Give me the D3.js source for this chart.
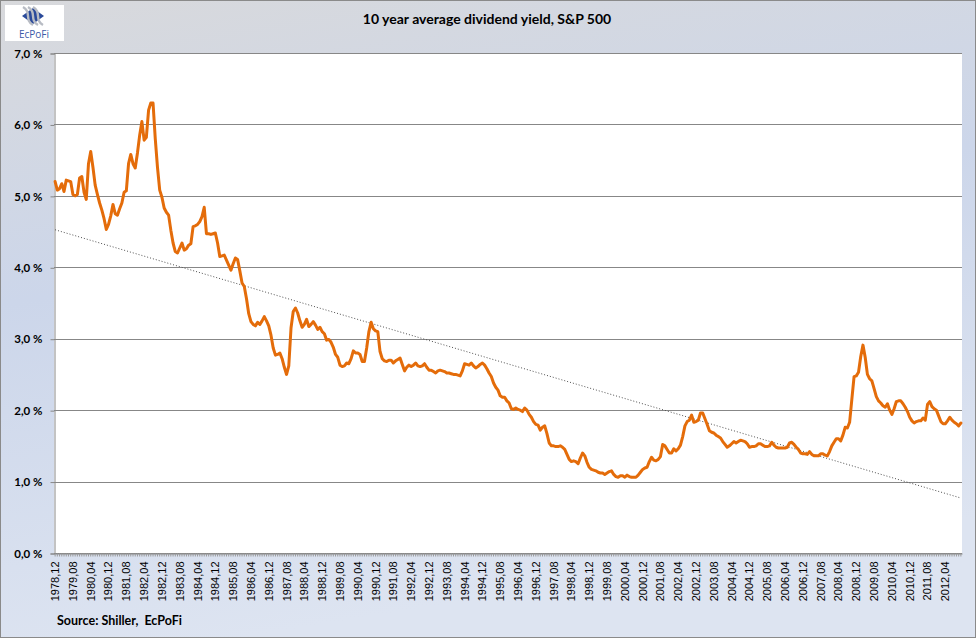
<!DOCTYPE html>
<html>
<head>
<meta charset="utf-8">
<script src="https://cdn.jsdelivr.net/npm/d3@7"></script>
<style>
  html, body { margin: 0; padding: 0; background: #fff; }
  svg { display: block; }
  text { white-space: pre; }
</style>
</head>
<body>
<svg id="chart" width="977" height="639"></svg>
<script>
// ---------- data ----------
const startYear = 1978;
const startMonth = 12;
const monthCount = 408; // Dec 1978 .. Nov 2012

// monthly S&P 500 dividend yield (%)
const yieldValues = [
  5.20,5.08,5.10,5.17,5.06,5.22,5.21,5.20,5.02,5.00,
  5.02,5.25,5.27,5.05,4.95,5.45,5.62,5.40,5.15,5.02,
  4.90,4.80,4.68,4.53,4.60,4.72,4.88,4.75,4.73,4.82,
  4.90,5.05,5.07,5.45,5.58,5.45,5.39,5.60,5.85,6.04,
  5.78,5.82,6.20,6.30,6.30,5.80,5.40,5.08,4.98,4.83,
  4.77,4.73,4.52,4.34,4.22,4.20,4.27,4.34,4.24,4.26,
  4.31,4.33,4.57,4.58,4.60,4.64,4.71,4.84,4.47,4.47,
  4.46,4.47,4.48,4.34,4.15,4.16,4.17,4.10,4.03,3.96,
  4.05,4.13,4.11,3.95,3.78,3.73,3.56,3.35,3.24,3.20,
  3.18,3.23,3.20,3.25,3.31,3.25,3.18,3.05,2.87,2.77,
  2.78,2.80,2.72,2.60,2.50,2.62,3.15,3.38,3.43,3.36,
  3.25,3.16,3.20,3.27,3.17,3.20,3.24,3.19,3.13,3.16,
  3.10,3.07,2.98,2.99,2.95,2.88,2.78,2.74,2.63,2.61,
  2.62,2.66,2.65,2.72,2.83,2.80,2.80,2.78,2.68,2.68,
  2.87,3.10,3.23,3.14,3.11,3.10,2.82,2.72,2.69,2.68,
  2.70,2.70,2.66,2.69,2.71,2.73,2.64,2.55,2.60,2.63,
  2.61,2.63,2.66,2.62,2.61,2.62,2.65,2.60,2.56,2.56,
  2.54,2.52,2.55,2.56,2.55,2.54,2.52,2.52,2.51,2.50,
  2.50,2.49,2.48,2.55,2.65,2.64,2.63,2.66,2.62,2.59,
  2.61,2.64,2.66,2.63,2.58,2.52,2.47,2.38,2.32,2.28,
  2.20,2.18,2.18,2.13,2.10,2.02,2.01,2.03,2.01,2.00,
  1.98,2.03,2.00,1.94,1.90,1.84,1.80,1.79,1.72,1.76,
  1.78,1.67,1.54,1.50,1.50,1.49,1.49,1.50,1.48,1.45,
  1.38,1.31,1.28,1.29,1.28,1.25,1.33,1.40,1.36,1.27,
  1.20,1.17,1.16,1.15,1.13,1.12,1.12,1.10,1.12,1.14,
  1.15,1.10,1.07,1.06,1.08,1.08,1.06,1.09,1.07,1.06,
  1.06,1.06,1.09,1.13,1.17,1.19,1.20,1.28,1.34,1.30,
  1.29,1.31,1.35,1.52,1.50,1.45,1.40,1.40,1.46,1.43,
  1.46,1.51,1.63,1.78,1.84,1.86,1.93,1.83,1.84,1.86,
  1.96,1.96,1.88,1.80,1.71,1.69,1.68,1.65,1.63,1.61,
  1.56,1.52,1.48,1.50,1.53,1.56,1.54,1.56,1.58,1.57,
  1.56,1.53,1.48,1.49,1.49,1.50,1.53,1.53,1.51,1.49,
  1.49,1.50,1.55,1.51,1.48,1.47,1.47,1.47,1.47,1.48,
  1.54,1.55,1.52,1.48,1.45,1.40,1.39,1.39,1.38,1.42,
  1.38,1.36,1.36,1.36,1.39,1.39,1.37,1.36,1.42,1.50,
  1.55,1.60,1.60,1.57,1.65,1.76,1.75,1.83,2.15,2.47,
  2.48,2.53,2.75,2.91,2.74,2.50,2.44,2.41,2.30,2.19,
  2.13,2.10,2.06,2.04,2.09,2.00,1.94,2.02,2.12,2.13,
  2.13,2.09,2.04,1.98,1.90,1.85,1.82,1.84,1.85,1.85,
  1.89,1.86,2.08,2.12,2.05,2.02,2.00,1.92,1.84,1.81,
  1.81,1.85,1.90,1.86,1.83,1.81,1.78,1.82
];

const yTickValues = [0, 1, 2, 3, 4, 5, 6, 7];
const labelEvery = 8;
const titleText = "10 year average dividend yield, S&P 500";
const sourceText = "Source: Shiller,  EcPoFi";

// month labels "YYYY,MM"
const months = [];
for (let i = 0; i < monthCount; i++) {
  const t = (startMonth - 1) + i;
  const yr = startYear + Math.floor(t / 12);
  const mo = (t % 12) + 1;
  months.push(yr + "," + String(mo).padStart(2, "0"));
}
const series = months.map((m, i) => ({ m, v: yieldValues[i] }));

// ---------- layout ----------
const W = 977, H = 639;
const plot = { left: 54, right: 962, top: 53, bottom: 553 };

const svg = d3.select("#chart");
const defs = svg.append("defs");
const bg = defs.append("linearGradient").attr("id", "bg")
  .attr("x1", 0).attr("y1", 0).attr("x2", 0.25).attr("y2", 1);
bg.append("stop").attr("offset", "0%").attr("stop-color", "#d8d9dc");
bg.append("stop").attr("offset", "45%").attr("stop-color", "#ccd6ea");
bg.append("stop").attr("offset", "100%").attr("stop-color", "#dde4f1");

svg.append("rect").attr("x", 0.5).attr("y", 0.5).attr("width", W - 2).attr("height", H - 2)
  .attr("fill", "url(#bg)").attr("stroke", "#8a8a8a").attr("stroke-width", 1);

// plot area
svg.append("rect").attr("x", plot.left).attr("y", plot.top)
  .attr("width", plot.right - plot.left).attr("height", plot.bottom - plot.top)
  .attr("fill", "#ffffff");

const x = d3.scaleBand().domain(months).range([plot.left, plot.right]).paddingInner(0).paddingOuter(0);
const xc = d => x(d) + x.bandwidth() / 2;
const y = d3.scaleLinear().domain([0, 7]).range([plot.bottom, plot.top]);

// gridlines
svg.append("g").selectAll("line").data(yTickValues).join("line")
  .attr("x1", plot.left).attr("x2", plot.right)
  .attr("y1", d => Math.round(y(d)) + 0.5).attr("y2", d => Math.round(y(d)) + 0.5)
  .attr("stroke", "#878787").attr("stroke-width", 1);

// y axis
const yAxis = svg.append("g").attr("transform", `translate(${plot.left + 0.5},0.5)`)
  .call(d3.axisLeft(y).tickValues(yTickValues).tickSize(4).tickPadding(8)
    .tickFormat(d => d.toFixed(1).replace(".", ",") + " %"));
yAxis.select(".domain").attr("stroke", "#878787");
yAxis.selectAll(".tick line").attr("stroke", "#878787");
yAxis.selectAll("text").attr("font-family", "Lato, 'Open Sans', sans-serif")
  .attr("font-weight", "bold").attr("font-size", "11.5px").attr("fill", "#000");

// x axis
const xAxis = svg.append("g").attr("transform", `translate(0,${plot.bottom + 0.5})`)
  .call(d3.axisBottom(x).tickSize(3).tickSizeOuter(0)
    .tickFormat((d, i) => (i % labelEvery === 0 ? d : "")));
xAxis.select(".domain").attr("stroke", "#878787");
xAxis.selectAll(".tick line").attr("stroke", "#9a9a9a");
xAxis.selectAll("text")
  .attr("font-family", "'Liberation Sans', Arial, sans-serif")
  .attr("font-size", "11px").attr("fill", "#000")
  .attr("transform", "rotate(-90)")
  .attr("text-anchor", "end")
  .attr("x", -8).attr("y", 0).attr("dy", "0.36em");

// trend line (least squares on month index)
const n = series.length;
const meanX = (n - 1) / 2;
const meanY = d3.mean(yieldValues);
let sxy = 0, sxx = 0;
yieldValues.forEach((v, i) => { sxy += (i - meanX) * (v - meanY); sxx += (i - meanX) ** 2; });
const slope = sxy / sxx;
const icpt = meanY - slope * meanX;
svg.append("line")
  .attr("x1", xc(months[0])).attr("y1", y(icpt))
  .attr("x2", xc(months[n - 1])).attr("y2", y(icpt + slope * (n - 1)))
  .attr("stroke", "#505050").attr("stroke-width", 1).attr("stroke-dasharray", "1,2");

// main line
const line = d3.line().x(d => xc(d.m)).y(d => y(d.v));
svg.append("path").datum(series)
  .attr("d", line).attr("fill", "none")
  .attr("stroke", "#E46C0A").attr("stroke-width", 3)
  .attr("stroke-linejoin", "round").attr("stroke-linecap", "round");

// title
svg.append("text").attr("x", 487).attr("y", 24).attr("text-anchor", "middle")
  .attr("font-family", "Lato, 'Open Sans', sans-serif").attr("font-weight", "bold")
  .attr("font-size", "14px").attr("fill", "#000").text(titleText);

// source
svg.append("text").attr("x", 57).attr("y", 625).attr("xml:space", "preserve")
  .attr("font-family", "Lato, 'Open Sans', sans-serif").attr("font-weight", "bold")
  .attr("font-size", "12.5px").attr("fill", "#000").text(sourceText);

// logo
const logo = svg.append("g");
logo.append("rect").attr("x", 5).attr("y", 5).attr("width", 59).attr("height", 36).attr("fill", "#fff");
const icon = logo.append("g").attr("transform", "translate(33,16)");
icon.append("path").attr("d", "M-11,0 L0,-8 L11,0 L0,8 Z").attr("fill", "#2a4a9a");
[-5, 0, 5].forEach(o => {
  icon.append("path").attr("d", `M${o - 5},-9 C${o + 4},-4 ${o - 4},4 ${o + 5},9`)
    .attr("fill", "none").attr("stroke", "#b8bcc4").attr("stroke-width", 2.4);
});
logo.append("text").attr("x", 34).attr("y", 38).attr("text-anchor", "middle")
  .attr("font-family", "'Open Sans', Lato, sans-serif").attr("font-size", "10px")
  .attr("fill", "#3a5aa8").text("EcPoFi");
</script>
</body>
</html>
